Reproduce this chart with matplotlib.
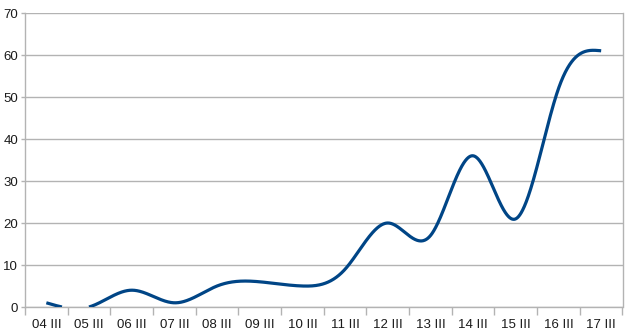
import matplotlib
matplotlib.use("Agg")
import matplotlib.pyplot as plt
import numpy as np

labels = ["04 III", "05 III", "06 III", "07 III", "08 III", "09 III", "10 III",
          "11 III", "12 III", "13 III", "14 III", "15 III", "16 III", "17 III"]
values = [1, 0, 4, 1, 5, 6, 5, 9, 20, 17, 36, 21, 52, 61]


def natural_coef(t, y):
    k = len(t)
    h = np.diff(t)
    A = np.zeros((k, k))
    r = np.zeros(k)
    A[0, 0] = 1
    A[-1, -1] = 1
    for i in range(1, k - 1):
        A[i, i - 1] = h[i - 1]
        A[i, i] = 2 * (h[i - 1] + h[i])
        A[i, i + 1] = h[i]
        r[i] = 6 * ((y[i + 1] - y[i]) / h[i] - (y[i] - y[i - 1]) / h[i - 1])
    return np.linalg.solve(A, r)


def smooth(x, y, n=200):
    # natural cubic spline through the points
    x = np.asarray(x, float)
    y = np.asarray(y, float)
    m = natural_coef(x, y)
    h = np.diff(x)
    xs, ys = [], []
    for i in range(len(x) - 1):
        s = np.linspace(x[i], x[i + 1], n, endpoint=(i == len(x) - 2))
        a = (x[i + 1] - s) / h[i]
        b = (s - x[i]) / h[i]
        xs.append(s)
        ys.append(a * y[i] + b * y[i + 1]
                  + ((a ** 3 - a) * m[i] + (b ** 3 - b) * m[i + 1]) * h[i] ** 2 / 6)
    return np.concatenate(xs), np.concatenate(ys)


grid = "#b3b3b3"
txt = "#1a1a1a"

fig = plt.figure(figsize=(6.31, 3.33), dpi=100)
ax = fig.add_axes([25 / 631, 26 / 333, 597.5 / 631, 294 / 333])

pos = np.arange(len(values))
sx, sy = smooth(pos, values)
# the office chart cuts the curve away where it leaves the plot area
sy = np.where(sy < 0, np.nan, sy)
ax.plot(sx, sy, color="#004586", lw=2.3, solid_capstyle="butt", zorder=3)

ax.set_xlim(-0.5, len(values) - 0.5)
ax.set_ylim(0, 70)
ax.set_yticks(range(0, 71, 10))
ax.yaxis.grid(True, color=grid, lw=1)
ax.set_axisbelow(True)

ax.set_xticks(np.arange(-0.5, len(values), 1))
ax.set_xticklabels([])
ax.set_xticks(pos, minor=True)
ax.set_xticklabels(labels, minor=True)
ax.tick_params(axis="x", which="major", length=6, color=grid, width=1)
ax.tick_params(axis="x", which="minor", length=0, pad=9, labelsize=9.5, labelcolor=txt)
ax.tick_params(axis="y", length=3, color=grid, width=1, pad=2, labelsize=9.5, labelcolor=txt)

for sp in ax.spines.values():
    sp.set_color(grid)
    sp.set_linewidth(1)
ax.spines["top"].set_visible(False)

for t in ax.get_xticklabels(minor=True) + ax.get_yticklabels():
    t.set_fontfamily("Liberation Sans")

fig.savefig("out.png", dpi=100)
